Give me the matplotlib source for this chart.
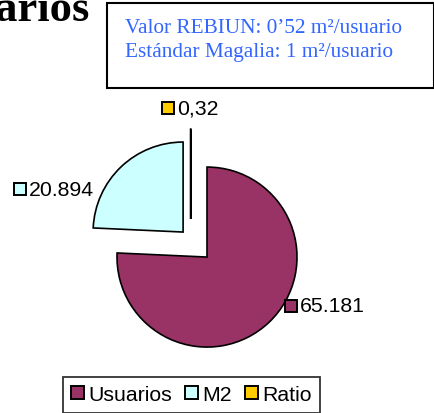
import matplotlib.pyplot as plt
from matplotlib.patches import Rectangle

W, H = 435, 414

categories = ["Usuarios", "M2", "Ratio"]
values = [65181, 20894, 0.32]
value_labels = ["65.181", "20.894", "0,32"]
colors = ["#993366", "#CCFFFF", "#FFCC00"]
title = "Usuarios"
note_lines = ["Valor REBIUN: 0\u201952 m\u00b2/usuario", "Est\u00e1ndar Magalia: 1 m\u00b2/usuario"]

# layout in image pixels (y from top)
center = (190.7, 241)
radius = 90
explode = [23.6, 11, 21]
label_pos = [(291.5, 306.5), (20.5, 190), (168.5, 109)]


def Y(y):
    return H - y


fig = plt.figure(figsize=(W / 100, H / 100), dpi=100)
ax = fig.add_axes([0, 0, 1, 1])

wedges, _ = ax.pie(values, colors=colors, startangle=90, counterclock=False,
                   radius=radius, center=(center[0], Y(center[1])), explode=explode,
                   wedgeprops=dict(edgecolor="black", linewidth=1.2))
ax.set_xlim(0, W)
ax.set_ylim(0, H)
ax.set_aspect("equal")
ax.axis("off")

# value labels with colour squares
for (mx, my), txt, c in zip(label_pos, value_labels, colors):
    ax.plot(mx, Y(my), marker="s", ms=9, mfc=c, mec="black", mew=1.4)
    ax.text(mx + 8.5, Y(my), txt, fontsize=15.3, family="Liberation Sans",
            va="center", ha="left")

# title (cut at the top-left in the original)
ax.text(90, Y(21), title, fontsize=32, family="Liberation Serif", weight="bold",
        ha="right", va="baseline")

# note box
ax.add_patch(Rectangle((107, Y(89)), 327, 85, fill=False, edgecolor="black", linewidth=1.5))
for i, line in enumerate(note_lines):
    ax.text(125, Y(33 + 24 * i), line, fontsize=15.3, family="Liberation Serif",
            color="#3366FF", ha="left", va="baseline")

leg = ax.legend(wedges, categories, ncol=3, loc="center",
                bbox_to_anchor=(191.5 / W, 1 - 395.5 / H), bbox_transform=fig.transFigure,
                prop={"family": "Liberation Sans", "size": 15.3},
                handlelength=0.62, handleheight=0.62, handletextpad=0.2,
                columnspacing=0.6, borderpad=0.4, borderaxespad=0,
                fancybox=False, frameon=True)
leg.get_frame().set_edgecolor("black")
leg.get_frame().set_linewidth(1.3)
for h in leg.legend_handles:
    h.set_linewidth(1.4)

fig.savefig("out.png", dpi=100)
